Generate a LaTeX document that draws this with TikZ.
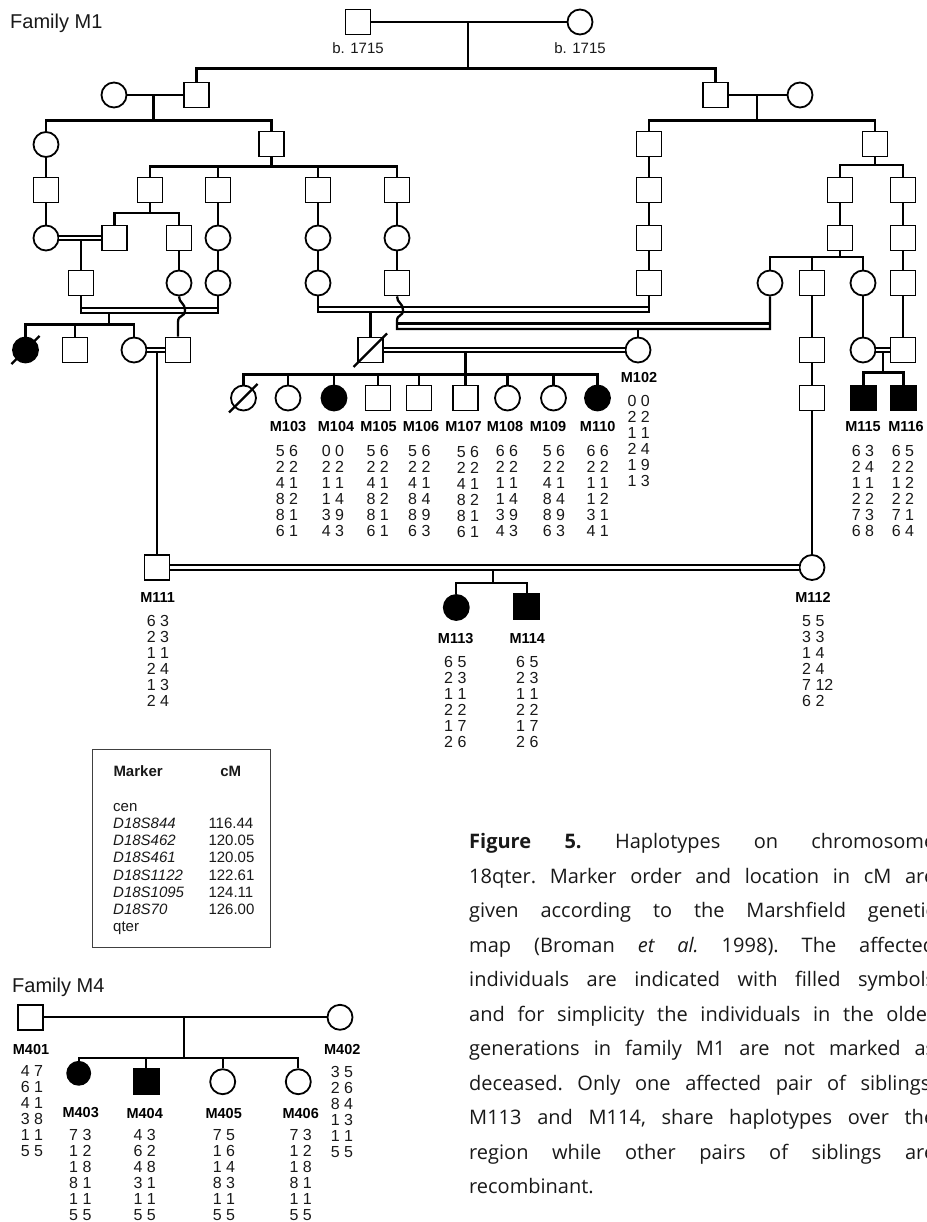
\documentclass[tikz,border=0pt]{standalone}
\usepackage{fontspec}
\setmainfont{Liberation Sans}
\newfontfamily\capfont{Open Sans}
\tikzset{
  sym/.style={draw=black,line width=1.8pt,inner sep=0pt,minimum size=25pt},
  sq/.style={sym,rectangle},
  ci/.style={sym,circle},
  fsq/.style={sq,fill=black},
  fci/.style={ci,fill=black},
  ln/.style={line width=2.3pt,line join=miter},
  thinln/.style={line width=1.9pt},
  dbl/.style={line width=1.9pt,double=white,double distance=2.4pt},
  idlab/.style={font=\fontsize{14.5}{16}\selectfont\bfseries,inner sep=0pt,text=black},
  haplo/.style={anchor=north,align=center,inner sep=0pt,font=\fontsize{16}{16}\selectfont,text=black!90},
  txt/.style={inner sep=0pt,anchor=base west,font=\fontsize{15}{16}\selectfont,text=black!90},
  fam/.style={inner sep=0pt,anchor=base west,font=\fontsize{20}{22}\selectfont,text=black!90}
}
\newcommand\hapl[4]{\node[haplo] (#1) at (#2,#3) {#4};}
\begin{document}
\begin{tikzpicture}[x=1pt,y=-1pt]
\useasboundingbox[fill=white] (0,0) rectangle (926,1222);
\node[fam] (famA) at (10,29) {Family M1};
\node[fam] (famB) at (12,992) {Family M4};
% generation 1
\node[sq] (g1s) at (358,22) {};
\node[ci] (g1c) at (580,22) {};
\node[txt,anchor=base] (b1) at (358,54) {b. 1715};
\node[txt,anchor=base] (b2) at (580,54) {b. 1715};
\coordinate (m1) at (468,22);
\coordinate (f1) at (468,68.5);
\draw[ln] (g1s.east) -- (g1c.west);
\draw[ln] (m1) -- (f1);
% generation 2
\node[ci] (g2a) at (114,95) {};
\node[sq] (g2b) at (196.5,95) {};
\node[sq] (g2c) at (715.5,95) {};
\node[ci] (g2d) at (800,95) {};
\coordinate (m2) at (153.5,95);
\coordinate (f2) at (153.5,120.5);
\coordinate (m3) at (757,95);
\coordinate (f3) at (757,120.5);
\draw[ln] (g2b.north) |- (f1) -| (g2c.north);
\draw[ln] (g2a.east) -- (g2b.west);
\draw[ln] (g2c.east) -- (g2d.west);
\draw[ln] (m2) -- (f2);
\draw[ln] (m3) -- (f3);
% generation 3
\node[ci] (g3a) at (46,144.5) {};
\node[sq] (g3b) at (271.5,144) {};
\node[sq] (g3c) at (649,144) {};
\node[sq] (g3d) at (875,144) {};
\draw[ln] (g3a.north) |- (f2) -| (g3b.north);
\draw[ln] (g3c.north) |- (f3) -| (g3d.north);
% row 190
\node[sq] (r4a) at (46,190) {};
\node[sq] (r4b) at (150,190) {};
\node[sq] (r4c) at (218,190) {};
\node[sq] (r4d) at (318,190) {};
\node[sq] (r4e) at (397,190) {};
\node[sq] (r4f) at (649,190) {};
\node[sq] (r4g) at (840,190) {};
\node[sq] (r4h) at (903,190) {};
\coordinate (f4) at (271.5,166.5);
\coordinate (f5) at (875,165);
\draw[ln] (g3a.south) -- (r4a.north);
\draw[ln] (g3b.south) -- (f4);
\draw[ln] (r4b.north) |- (f4) -| (r4e.north);
\draw[ln] (r4c.north) -- (r4c.north |- f4);
\draw[ln] (r4d.north) -- (r4d.north |- f4);
\draw[ln] (g3c.south) -- (r4f.north);
\draw[ln] (g3d.south) -- (f5);
\draw[ln] (r4g.north) |- (f5) -| (r4h.north);
% row 238
\node[ci] (r5a) at (46,238) {};
\node[sq] (r5b) at (114.5,238) {};
\node[sq] (r5c) at (179,238) {};
\node[ci] (r5d) at (218,238) {};
\node[ci] (r5e) at (318,238) {};
\node[ci] (r5f) at (397,238) {};
\node[sq] (r5g) at (649,238) {};
\node[sq] (r5h) at (840,238) {};
\node[sq] (r5i) at (903,238) {};
\coordinate (f6) at (150,213);
\draw[ln] (r4a.south) -- (r5a.north);
\draw[ln] (r4b.south) -- (f6);
\draw[ln] (r5b.north) |- (f6) -| (r5c.north);
\draw[ln] (r4c.south) -- (r5d.north);
\draw[ln] (r4d.south) -- (r5e.north);
\draw[ln] (r4e.south) -- (r5f.north);
\draw[ln] (r4f.south) -- (r5g.north);
\draw[ln] (r4g.south) -- (r5h.north);
\draw[ln] (r4h.south) -- (r5i.north);
% row 283
\node[sq] (r6a) at (81,283) {};
\node[ci] (r6b) at (179,283) {};
\node[ci] (r6c) at (218,283) {};
\node[ci] (r6d) at (318,283) {};
\node[sq] (r6e) at (397,283) {};
\node[sq] (r6f) at (649,283) {};
\node[ci] (r6g) at (770,283) {};
\node[sq] (r6h) at (812,283) {};
\node[ci] (r6i) at (863,283) {};
\node[sq] (r6j) at (903,283) {};
\coordinate (m6) at (81,240);
\coordinate (f7) at (840,257);
\draw[ln] (m6) -- (r6a.north);
\draw[dbl] (r5a.east) -- (r5b.west);
\draw[ln] (r5c.south) -- (r6b.north);
\draw[ln] (r5d.south) -- (r6c.north);
\draw[ln] (r5e.south) -- (r6d.north);
\draw[ln] (r5f.south) -- (r6e.north);
\draw[ln] (r5g.south) -- (r6f.north);
\draw[ln] (r5h.south) -- (f7);
\draw[ln] (r6g.north) |- (f7) -| (r6i.north);
\draw[ln] (r6h.north) -- (r6h.north |- f7);
\draw[ln] (r5i.south) -- (r6j.north);
% row 350
\node[fci] (r7a) at (25.5,350) {};
\node[sq] (r7b) at (75,350) {};
\node[ci] (r7c) at (134,350) {};
\node[sq] (r7d) at (178,350) {};
\node[sq] (r7e) at (370.5,350) {};
\node[ci] (m102) at (638,350) {};
\node[sq] (r7f) at (812,350) {};
\node[ci] (r7g) at (863,350) {};
\node[sq] (r7h) at (903,350) {};
\draw[ln] (r7a) ++(-14,14) -- ++(28,-28);
\draw[ln] (r7e) ++(-17,17) -- ++(33.5,-33.5);
% consanguineous loops
\coordinate (dla) at (81,308);
\coordinate (dlb) at (218,308);
\coordinate (dlc) at (218,313);
\coordinate (dld) at (318,307);
\coordinate (dle) at (649,307);
\coordinate (dlf) at (649,312);
\coordinate (dlg) at (397,323.5);
\coordinate (dlh) at (770,323.5);
\coordinate (dli) at (397,329);
\coordinate (wa) at (185,310);
\coordinate (wb) at (178,322);
\coordinate (wc) at (403,310);
\coordinate (wd) at (397,321);
\draw[ln] (r6a.south) |- (dlc) -- (r6c.south);
\draw[ln] (dla) -- (dlb);
\draw[ln] (r6d.south) |- (dlf) -- (r6f.south);
\draw[ln] (dld) -- (dle);
\draw[ln] (dlg) -- (dlh);
\draw[ln] (r6g.south) |- (dli) -- (wd) .. controls (397,314) and (403,317) .. (wc) .. controls (403,303) and (397,303) .. (r6e.south);
\draw[ln] (r6b.south) .. controls (179,303) and (185,303) .. (wa) .. controls (185,318) and (178,314) .. (wb) -- (r7d.north);
\coordinate (m7) at (109,313);
\coordinate (f8) at (109,324.5);
\draw[ln] (m7) -- (f8);
\draw[ln] (r7a.north) |- (f8) -| (r7c.north);
\draw[ln] (r7b.north) -- (r7b.north |- f8);
\coordinate (m9) at (370.5,312);
\coordinate (m10) at (638,329);
\draw[ln] (m9) -- (r7e.north);
\draw[ln] (m10) -- (m102.north);
\coordinate (m8) at (157,352);
\coordinate (m11) at (465.5,352);
\coordinate (f9) at (465.5,374.5);
\coordinate (m12) at (883,352);
\coordinate (f10) at (883,372.5);
\draw[ln] (r6h.south) -- (r7f.north);
\draw[ln] (r6i.south) -- (r7g.north);
\draw[ln] (r6j.south) -- (r7h.north);
% sibship of row 398
\node[ci] (k1) at (243.5,398) {};
\node[ci] (k2) at (288,398) {};
\node[fci] (k3) at (334,398) {};
\node[sq] (k4) at (378,398) {};
\node[sq] (k5) at (419,398) {};
\node[sq] (k6) at (465.5,398) {};
\node[ci] (k7) at (507.5,398) {};
\node[ci] (k8) at (553.5,398) {};
\node[fci] (k9) at (597.5,398) {};
\node[sq] (k10) at (812,398) {};
\node[fsq] (k11) at (863.5,398) {};
\node[fsq] (k12) at (903.5,398) {};
\draw[ln] (k1) ++(-14.5,14.5) -- ++(28.5,-28.5);
\draw[ln] (m11) -- (f9);
\draw[dbl] (r7c.east) -- (r7d.west);
\draw[dbl] (r7e.east) -- (m102.west);
\draw[dbl] (r7g.east) -- (r7h.west);
\draw[ln] (k1.north) |- (f9) -| (k9.north);
\foreach \kk in {k2,k3,k4,k5,k6,k7,k8}{\draw[ln] (\kk.north) -- (\kk.north |- f9);}
\draw[ln] (r7f.south) -- (k10.north);
\draw[ln] (m12) -- (f10);
\draw[ln] (k11.north) |- (f10) -| (k12.north);
% bottom couple
\node[sq] (m111) at (157,567.5) {};
\node[ci] (m112) at (812,567.5) {};
\node[fci] (n113) at (456.3,607.5) {};
\node[fsq] (n114) at (526.7,606.5) {};
\coordinate (m13) at (493,570);
\coordinate (f11) at (493,582.7);
\draw[ln] (m8) -- (m111.north);
\draw[ln] (k10.south) -- (m112.north);
\draw[ln] (m13) -- (f11);
\draw[dbl] (m111.east) -- (m112.west);
\draw[ln] (n113.north) |- (f11) -| (n114.north);
% labels M1
\node[idlab] (l103) at (288,427) {M103};
\node[idlab] (l104) at (336,427) {M104};
\node[idlab] (l105) at (378.5,427) {M105};
\node[idlab] (l106) at (421,427) {M106};
\node[idlab] (l107) at (463.5,427) {M107};
\node[idlab] (l108) at (505,427) {M108};
\node[idlab] (l109) at (548,427) {M109};
\node[idlab] (l110) at (597.7,427) {M110};
\node[idlab] (l102) at (639,378) {M102};
\node[idlab] (l115) at (863,427) {M115};
\node[idlab] (l116) at (906,427) {M116};
\node[idlab] (l111) at (157.7,597.5) {M111};
\node[idlab] (l112) at (813,597.5) {M112};
\node[idlab] (l113) at (455.7,639) {M113};
\node[idlab] (l114) at (527.3,639) {M114};
% haplotypes M1
\hapl{h103}{287}{445.2}{5 6\\2 2\\4 1\\8 2\\8 1\\6 1}
\hapl{h104}{333}{445.2}{0 0\\2 2\\1 1\\1 4\\3 9\\4 3}
\hapl{h105}{377.7}{445.2}{5 6\\2 2\\4 1\\8 2\\8 1\\6 1}
\hapl{h106}{419.3}{445.2}{5 6\\2 2\\4 1\\8 4\\8 9\\6 3}
\hapl{h107}{468}{446}{5 6\\2 2\\4 1\\8 2\\8 1\\6 1}
\hapl{h108}{507}{445.2}{6 6\\2 2\\1 1\\1 4\\3 9\\4 3}
\hapl{h109}{554}{445.2}{5 6\\2 2\\4 1\\8 4\\8 9\\6 3}
\hapl{h110}{597.7}{445.2}{6 6\\2 2\\1 1\\1 2\\3 1\\4 1}
\hapl{h102}{638.7}{395.2}{0 0\\2 2\\1 1\\2 4\\1 9\\1 3}
\hapl{h115}{863}{445.2}{6 3\\2 4\\1 1\\2 2\\7 3\\6 8}
\hapl{h116}{903}{445.2}{6 5\\2 2\\1 2\\2 2\\7 1\\6 4}
\hapl{h111}{158}{615.2}{6 3\\2 3\\1 1\\2 4\\1 3\\2 4}
\node[haplo,anchor=north west,align=left] (h112) at (802,615) {5 5\\3 3\\1 4\\2 4\\7 12\\6 2};
\hapl{h113}{455.3}{656.5}{6 5\\2 3\\1 1\\2 2\\1 7\\2 6}
\hapl{h114}{527.3}{656.5}{6 5\\2 3\\1 1\\2 2\\1 7\\2 6}
% marker box
\node[draw=black!75,line width=1.2pt,minimum width=178pt,minimum height=198.5pt,inner sep=0pt] (mbox) at (181.5,848.6) {};
\node[txt,anchor=base west,font=\fontsize{15}{16}\selectfont\bfseries] (mk) at (113.3,776) {Marker};
\node[txt,anchor=base,font=\fontsize{15}{16}\selectfont\bfseries] (cm) at (230.7,776) {cM};
\node[txt] (t0) at (113,811) {cen};
\node[txt] (t1) at (113,828.5) {\itshape D18S844};
\node[txt] (t2) at (113,845.7) {\itshape D18S462};
\node[txt] (t3) at (113,862.9) {\itshape D18S461};
\node[txt] (t4) at (113,880.1) {\itshape D18S1122};
\node[txt] (t5) at (113,897.3) {\itshape D18S1095};
\node[txt] (t6) at (113,914.5) {\itshape D18S70};
\node[txt] (t7) at (113,931.7) {qter};
\node[txt] (c1) at (208.3,828.5) {116.44};
\node[txt] (c2) at (208.3,845.7) {120.05};
\node[txt] (c3) at (208.3,862.9) {120.05};
\node[txt] (c4) at (208.3,880.1) {122.61};
\node[txt] (c5) at (208.3,897.3) {124.11};
\node[txt] (c6) at (208.3,914.5) {126.00};
% caption
\node[anchor=north west,inner sep=0pt,text width=466pt,align=justify,
      font=\capfont\fontsize{20}{34.5}\selectfont,text=black!90] (cap) at (469,833.5)
 {\frenchspacing{\bfseries Figure 5.} Haplotypes on chromosome\linebreak
  18qter. Marker order and location in cM are\linebreak
  given according to the Marshfield genetic\linebreak
  map (Broman {\itshape et al.} 1998). The affected\linebreak
  individuals are indicated with filled symbols\linebreak
  and for simplicity the individuals in the older\linebreak
  generations in family M1 are not marked as\linebreak
  deceased. Only one affected pair of siblings,\linebreak
  M113 and M114, share haplotypes over the\linebreak
  region while other pairs of siblings are\linebreak
  recombinant.\par};
% family M4
\node[sq] (m401) at (30.3,1017.3) {};
\node[ci] (m402) at (340,1017.3) {};
\node[fci,minimum size=23pt] (m403) at (78.7,1073.3) {};
\node[fsq] (m404) at (146.3,1081.7) {};
\node[ci] (m405) at (222.7,1081.7) {};
\node[ci] (m406) at (298.3,1081.7) {};
\coordinate (m14) at (184.3,1017.3);
\coordinate (f12) at (184.3,1058);
\draw[thinln] (m401.east) -- (m402.west);
\draw[thinln] (m14) -- (f12);
\draw[thinln] (m403.north) |- (f12) -| (m406.north);
\draw[thinln] (m404.north) -- (m404.north |- f12);
\draw[thinln] (m405.north) -- (m405.north |- f12);
\node[idlab] (l401) at (31,1049) {M401};
\node[idlab] (l402) at (342.3,1049) {M402};
\node[idlab] (l403) at (80.7,1113) {M403};
\node[idlab] (l404) at (144.7,1113) {M404};
\node[idlab] (l405) at (223.7,1113) {M405};
\node[idlab] (l406) at (300.7,1113) {M406};
\hapl{h401}{32}{1065.2}{4 7\\6 1\\4 1\\3 8\\1 1\\5 5}
\hapl{h402}{342}{1066.2}{3 5\\2 6\\8 4\\1 3\\1 1\\5 5}
\hapl{h403}{80.3}{1129.5}{7 3\\1 2\\1 8\\8 1\\1 1\\5 5}
\hapl{h404}{144.7}{1129.5}{4 3\\6 2\\4 8\\3 1\\1 1\\5 5}
\hapl{h405}{224}{1129.5}{7 5\\1 6\\1 4\\8 3\\1 1\\5 5}
\hapl{h406}{300.7}{1129.5}{7 3\\1 2\\1 8\\8 1\\1 1\\5 5}
\end{tikzpicture}
\end{document}
